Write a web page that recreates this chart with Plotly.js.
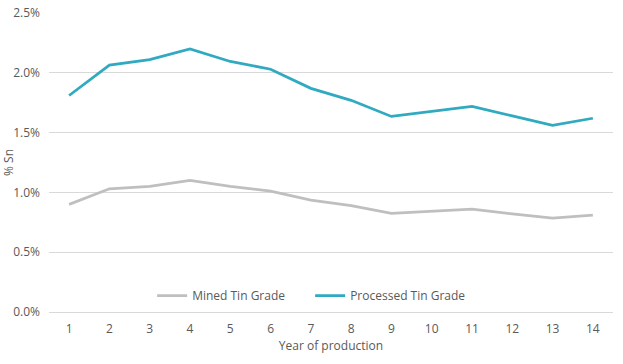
<!DOCTYPE html>
<html>
<head>
<meta charset="utf-8">
<script src="https://cdn.plot.ly/plotly-3.0.1.min.js"></script>
<style>html,body{margin:0;padding:0;background:#fff;}#chart{width:623px;height:364px;}</style>
</head>
<body>
<div id="chart"></div>
<script>
const years = ["1","2","3","4","5","6","7","8","9","10","11","12","13","14"];
const minedTinGrade = [0.90, 1.03, 1.05, 1.10, 1.05, 1.01, 0.935, 0.89, 0.825, 0.84, 0.86, 0.82, 0.785, 0.81];
const processedTinGrade = [1.81, 2.065, 2.11, 2.20, 2.095, 2.03, 1.87, 1.77, 1.635, 1.68, 1.72, 1.64, 1.56, 1.62];
const yTicks = [0, 0.5, 1.0, 1.5, 2.0, 2.5];
const yTickLabels = ["0.0%", "0.5%", "1.0%", "1.5%", "2.0%", "2.5%"];

const txt = '#595959';
const fontFam = 'Open Sans, Liberation Sans, sans-serif';

const traces = [
  {x: years, y: minedTinGrade, name: 'Mined Tin Grade', type: 'scatter', mode: 'lines',
   line: {color: '#BFBFBF', width: 2.75}},
  {x: years, y: processedTinGrade, name: 'Processed Tin Grade', type: 'scatter', mode: 'lines',
   line: {color: '#2FAAC0', width: 2.75}}
];

const layout = {
  width: 623, height: 364,
  margin: {l: 49, r: 10, t: 13, b: 52},
  paper_bgcolor: '#fff', plot_bgcolor: '#fff',
  font: {family: fontFam, size: 12, color: txt},
  showlegend: true,
  legend: {orientation: 'h', x: 0.463, xanchor: 'center', y: 0.055, yanchor: 'middle',
           entrywidth: 113, entrywidthmode: 'pixels',
           bgcolor: 'rgba(0,0,0,0)', font: {size: 12, color: txt}},
  xaxis: {type: 'category', range: [-0.5, 13.5], showgrid: false, zeroline: false,
          showline: false, ticks: '', tickfont: {size: 12, color: txt},
          ticklabelstandoff: 8,
          title: {text: 'Year of production', font: {size: 12, color: txt}, standoff: 4},
          fixedrange: true},
  yaxis: {range: [0, 2.5], tickmode: 'array', tickvals: yTicks, ticktext: yTickLabels,
          showgrid: true, gridcolor: '#D9D9D9', gridwidth: 1, zeroline: true,
          zerolinecolor: '#D9D9D9', zerolinewidth: 1, showline: false, ticks: '',
          ticklabelstandoff: 8,
          tickfont: {size: 12, color: txt},
          title: {text: '% Sn', font: {size: 12, color: txt}, standoff: 0},
          fixedrange: true}
};

Plotly.newPlot('chart', traces, layout, {displayModeBar: false, staticPlot: true});
</script>
</body>
</html>
